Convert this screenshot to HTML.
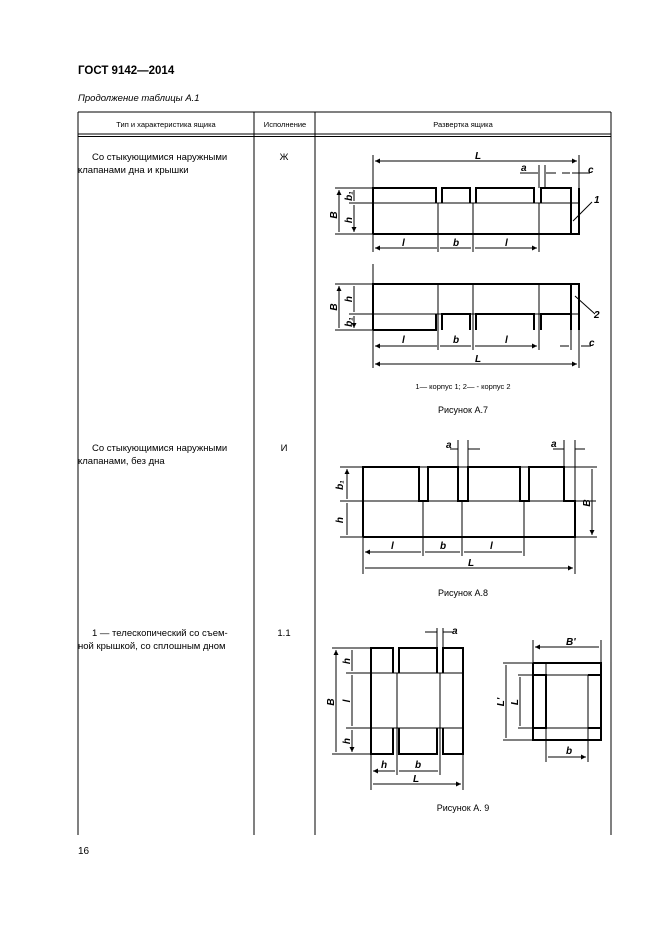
<!DOCTYPE html>
<html><head><meta charset="utf-8"><style>
html,body{margin:0;padding:0;background:#fff}
svg{display:block}
text{font-family:"Liberation Sans",sans-serif;fill:#000}
.t{stroke:#000;stroke-width:2;fill:none}
.n{stroke:#000;stroke-width:1;fill:none}
.lb{font-weight:bold;font-style:italic;font-size:10px}
</style></head><body>
<svg width="661" height="935" viewBox="0 0 661 935" xmlns="http://www.w3.org/2000/svg">
<defs>
<marker id="a" viewBox="0 0 6 6" refX="6" refY="3" markerWidth="5" markerHeight="5" orient="auto-start-reverse"><path d="M0,0L6,3L0,6z" fill="#000"/></marker>
</defs>
<text x="78" y="74" font-size="11.5" font-weight="bold">ГОСТ 9142—2014</text>
<text x="78" y="101" font-size="9.5" font-style="italic">Продолжение таблицы А.1</text>
<!-- table -->
<path class="n" d="M78,112H611M78,112V835M254,112V835M315,112V835M611,112V835M78,134H611M78,136.5H611"/>
<text x="166" y="127" font-size="7.5" text-anchor="middle">Тип и характеристика ящика</text>
<text x="285" y="127" font-size="7.5" text-anchor="middle">Исполнение</text>
<text x="463" y="127" font-size="7.5" text-anchor="middle">Развертка ящика</text>
<g font-size="9.5">
<text x="92" y="160">Со  стыкующимися  наружными</text>
<text x="78" y="173">клапанами дна и крышки</text>
<text x="284" y="160" text-anchor="middle">Ж</text>
<text x="92" y="451">Со  стыкующимися  наружными</text>
<text x="78" y="464">клапанами, без дна</text>
<text x="284" y="451" text-anchor="middle">И</text>
<text x="92" y="636">1 — телескопический со съем-</text>
<text x="78" y="649">ной крышкой, со сплошным дном</text>
<text x="284" y="636" text-anchor="middle">1.1</text>
</g>
<text x="78" y="854" font-size="10">16</text>

<!-- Fig A.7 top -->
<path class="t" d="M373,234V188H436V203M442,203V188H470V203M476,203V188H534V203M541,203V188H571V234M373,234H579V188"/>
<path class="n" d="M349,203H579M335,188H373M335,234H373M438,203V252M473,203V252M539,203V252M571,188V234M373,155V252M579,155V188M539,165V188M545,165V188"/>
<path class="n" d="M375,161H577" marker-start="url(#a)" marker-end="url(#a)"/>
<path class="n" d="M339,190V232M354,190V201M354,205V232" marker-start="url(#a)" marker-end="url(#a)"/>
<path class="n" d="M375,248H437M440,248H471M475,248H537" marker-start="url(#a)" marker-end="url(#a)"/>
<path class="n" d="M520,173H538M546,173H556M562,173H570M572,173H590"/>
<path class="n" d="M573,221L592,202"/>
<text x="475" y="159" class="lb">L</text>
<text x="521" y="171" class="lb">a</text>
<text x="588" y="173" class="lb">c</text>
<text x="594" y="203" class="lb" font-size="14">1</text>
<text x="402" y="246" class="lb">l</text>
<text x="453" y="246" class="lb">b</text>
<text x="505" y="246" class="lb">l</text>
<text x="337" y="215" class="lb" transform="rotate(-90 337 215)" text-anchor="middle">B</text>
<text x="352" y="196" class="lb" font-size="8" transform="rotate(-90 352 196)" text-anchor="middle">b₁</text>
<text x="352" y="220" class="lb" transform="rotate(-90 352 220)" text-anchor="middle">h</text>

<!-- Fig A.7 bottom -->
<path class="t" d="M373,330V284H579V330M571,330V284M373,330H436V314M442,330V314H470V330M476,330V314H534V330M541,330V314H571"/>
<path class="n" d="M373,264V368M349,314H579M335,284H373M335,330H373M438,284V350M473,284V350M539,284V350M571,284V350M579,330V368"/>
<path class="n" d="M339,286V328M354,286V312M354,316V328" marker-start="url(#a)" marker-end="url(#a)"/>
<path class="n" d="M375,346H437M440,346H471M475,346H537" marker-start="url(#a)" marker-end="url(#a)"/>
<path class="n" d="M375,364H577" marker-start="url(#a)" marker-end="url(#a)"/>
<path class="n" d="M560,346H569M581,346H591"/>
<path class="n" d="M575,296L595,314"/>
<text x="402" y="343" class="lb">l</text>
<text x="453" y="343" class="lb">b</text>
<text x="505" y="343" class="lb">l</text>
<text x="475" y="362" class="lb">L</text>
<text x="589" y="346" class="lb">c</text>
<text x="594" y="318" class="lb" font-size="14">2</text>
<text x="337" y="307" class="lb" transform="rotate(-90 337 307)" text-anchor="middle">B</text>
<text x="352" y="299" class="lb" transform="rotate(-90 352 299)" text-anchor="middle">h</text>
<text x="352" y="322" class="lb" font-size="8" transform="rotate(-90 352 322)" text-anchor="middle">b₁</text>
<text x="463" y="389" font-size="7.5" text-anchor="middle">1— корпус 1; 2— - корпус 2</text>
<text x="463" y="413" font-size="9" text-anchor="middle">Рисунок А.7</text>

<!-- Fig A.8 -->
<path class="t" d="M363,537V467H419V501H428V467H458V501H468V467H520V501H529V467H564V501H575V537H363"/>
<path class="n" d="M340,467H597M340,501H596M340,537H597M423,501V556M462,501V556M524,501V556M575,467V574M363,537V574M458,440V467M468,440V467M564,440V467M575,440V467"/>
<path class="n" d="M347,469V499M347,503V535M592,469V535" marker-start="url(#a)" marker-end="url(#a)"/>
<path class="n" d="M365,552H421M425,552H460M464,552H522M365,568H573" marker-start="url(#a)" marker-end="url(#a)"/>
<path class="n" d="M450,449H458M468,449H480M553,449H564M575,449H585"/>
<text x="446" y="448" class="lb">a</text>
<text x="551" y="447" class="lb">a</text>
<text x="391" y="549" class="lb">l</text>
<text x="440" y="549" class="lb">b</text>
<text x="490" y="549" class="lb">l</text>
<text x="468" y="566" class="lb">L</text>
<text x="343" y="485" class="lb" transform="rotate(-90 343 485)" text-anchor="middle">b₁</text>
<text x="343" y="520" class="lb" transform="rotate(-90 343 520)" text-anchor="middle">h</text>
<text x="590" y="503" class="lb" transform="rotate(-90 590 503)" text-anchor="middle">B</text>
<text x="463" y="596" font-size="9" text-anchor="middle">Рисунок А.8</text>

<!-- Fig A.9 left -->
<path class="t" d="M371,673V648H393V673M399,673V648H437V673M443,673V648H463V754H443V728M437,728V754H399V728M393,728V754H371V673"/>
<path class="n" d="M346,673H463M346,728H463M332,648H371M332,754H371M397,673V775M440,673V775M371,754V790M463,754V790M437,628V648M443,628V648"/>
<path class="n" d="M336,650V752M352,650V671M352,675V726M352,730V752" marker-start="url(#a)" marker-end="url(#a)"/>
<path class="n" d="M373,771H395M399,771H438M373,784H461" marker-start="url(#a)" marker-end="url(#a)"/>
<path class="n" d="M425,632H437M443,632H452"/>
<text x="452" y="634" class="lb">a</text>
<text x="381" y="768" class="lb">h</text>
<text x="415" y="768" class="lb">b</text>
<text x="413" y="782" class="lb">L</text>
<text x="334" y="702" class="lb" transform="rotate(-90 334 702)" text-anchor="middle">B</text>
<text x="350" y="661" class="lb" transform="rotate(-90 350 661)" text-anchor="middle">h</text>
<text x="350" y="701" class="lb" transform="rotate(-90 350 701)" text-anchor="middle">l</text>
<text x="350" y="741" class="lb" transform="rotate(-90 350 741)" text-anchor="middle">h</text>
<!-- Fig A.9 right -->
<path class="t" d="M533,663H601V675H588M546,675H533V663M533,675V728M533,728V740H601V728H588M546,728H533M601,675V728M546,675V728"/>
<rect x="533" y="675" width="13" height="53" class="t"/>
<path class="n" d="M503,663H533M518,675H588M518,728H588M503,740H533M546,663V762M588,675V762M533,640V663M601,640V663"/>
<path class="n" d="M535,647H599M506,665V738M520,677V726M548,757H586" marker-start="url(#a)" marker-end="url(#a)"/>
<text x="566" y="645" class="lb">B'</text>
<text x="566" y="754" class="lb">b</text>
<text x="504" y="702" class="lb" transform="rotate(-90 504 702)" text-anchor="middle">L'</text>
<text x="518" y="702" class="lb" transform="rotate(-90 518 702)" text-anchor="middle">L</text>
<text x="463" y="811" font-size="9" text-anchor="middle">Рисунок А. 9</text>
</svg>
</body></html>
